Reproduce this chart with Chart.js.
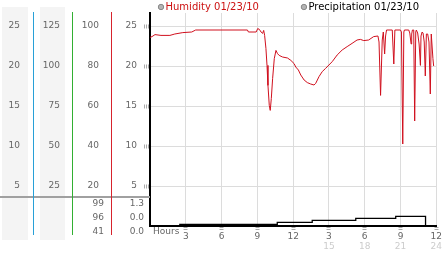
<!DOCTYPE html>
<html>
<head>
<meta charset="utf-8">
<script src="https://cdn.jsdelivr.net/npm/chart.js@4.4.1/dist/chart.umd.min.js"></script>
<style>
  html, body { margin: 0; padding: 0; background: #fff; }
  #chart { display: block; }
</style>
</head>
<body>
<canvas id="chart" width="442" height="253"></canvas>
<script>
// humidity trace (hour of day, %)
const humidityHours = [
  0.00, 0.17, 0.42, 0.92, 1.67, 2.08, 2.75, 3.50, 3.83, 8.17, 8.25, 8.90,
  9.03, 9.17, 9.31, 9.44, 9.53, 9.61, 9.72, 9.81, 9.89, 10.00, 10.08, 10.17,
  10.28, 10.42, 10.56, 10.69, 10.83, 11.11, 11.53, 11.81, 12.08, 12.22, 12.44, 12.64,
  12.92, 13.19, 13.47, 13.75, 13.89, 14.17, 14.44, 14.72, 15.00, 15.28, 15.69, 16.11,
  16.53, 16.94, 17.36, 17.64, 17.92, 18.33, 18.75, 19.11, 19.20, 19.33, 19.47, 19.56,
  19.67, 19.75, 19.83, 20.31, 20.44, 20.53, 21.00, 21.08, 21.19, 21.28, 21.33, 21.69,
  21.78, 21.89, 21.94, 22.00, 22.11, 22.19, 22.28, 22.33, 22.44, 22.56, 22.67, 22.72,
  22.81, 22.89, 22.99, 23.08, 23.17, 23.28, 23.39, 23.50, 23.58, 23.64, 23.72, 23.78
];
const humidityValues = [
  94.3, 94.7, 95.7, 95.3, 95.3, 96.0, 96.7, 97.0, 98.0, 98.0, 97.0, 97.0,
  98.7, 98.3, 97.0, 96.3, 97.8, 95.3, 88.7, 80.3, 70.3, 60.3, 57.8, 63.7,
  73.7, 83.7, 87.8, 86.2, 85.3, 84.5, 84.0, 82.8, 81.2, 79.5, 78.0, 75.5,
  73.0, 71.7, 71.0, 70.5, 71.3, 74.7, 77.2, 78.8, 80.5, 82.2, 85.5, 88.0,
  89.7, 91.3, 93.0, 93.3, 92.7, 93.0, 94.7, 95.0, 92.0, 65.3, 93.0, 97.0,
  86.0, 95.0, 98.0, 98.0, 81.0, 98.0, 98.0, 97.0, 41.0, 97.0, 98.0, 98.0,
  96.5, 91.0, 96.0, 98.0, 98.0, 52.5, 97.0, 98.0, 96.5, 91.0, 80.3, 95.0,
  97.0, 96.5, 92.0, 75.0, 96.0, 96.0, 92.0, 66.0, 96.0, 96.0, 83.7, 80.0
];

// precipitation steps: each value holds from its hour to the next one
const precipHours = [0, 2.5, 10.67, 13.6, 17.25, 20.6, 23.1, 23.8];
const precipValues = [0, 0.08, 0.18, 0.28, 0.38, 0.48, 0, 0];

const seriesNames = ['Humidity 01/23/10', 'Precipitation 01/23/10'];
const humidityStats = ['99', '96', '41'];   // max / now / min
const precipStats = ['1.3', '0.0', '0.0'];

const hourTicks = [3, 6, 9, 12, 15, 18, 21, 24];
const hourLabels = ['3', '6', '9', '12', '3', '6', '9', '12'];
const hourLabels24 = ['', '', '', '', '15', '18', '21', '24'];
const col1Ticks = [25, 20, 15, 10, 5];
const col2Ticks = [125, 100, 75, 50, 25];
const humTicks = [100, 80, 60, 40, 20];
const mainTicks = [25, 20, 15, 10, 5];

const HEAD = 1.065;   // room above the 100% line
const FONT = 'DejaVu Sans';
const LABEL = '#666';
const GRID = '#dcdcdc';
const MARK = '#aaa';
const RULES = { c1: 'rgb(40,160,215)', c2: 'rgb(50,175,50)', yHum: 'rgb(215,35,45)' };

Chart.defaults.font.family = FONT;
Chart.defaults.font.size = 9;
Chart.defaults.color = LABEL;

const setTicks = list => scale => { scale.ticks = list.map(v => ({ value: v })); };
// fixed column width, and no extra label room above/below the plot
const fixWidth = w => scale => {
  scale.width = w;
  scale.paddingTop = 0;
  scale.paddingBottom = 0;
};

function sideAxis(ticks, max, weight, width, pad) {
  return {
    type: 'linear', axis: 'y', position: 'left', weight: weight,
    min: 0, max: max,
    afterBuildTicks: setTicks(ticks),
    afterFit: fixWidth(width),
    grid: { display: false, drawTicks: false },
    border: { display: false },
    ticks: { padding: pad, color: LABEL }
  };
}

const frame = {
  id: 'frame',
  beforeDraw(chart) {
    const { ctx, chartArea: a, scales: s } = chart;
    ctx.save();
    ctx.fillStyle = '#f4f4f4';
    ctx.fillRect(s.c1.left + 2, a.top - 6, s.c1.width - 7, a.bottom - a.top + 20);
    ctx.fillRect(s.c2.left + 7, a.top - 6, s.c2.width - 14, a.bottom - a.top + 20);
    ctx.restore();
  },
  afterDraw(chart) {
    const { ctx, chartArea: a, scales: s } = chart;
    ctx.save();

    // separator above the stats block
    ctx.fillStyle = '#a0a0a0';
    ctx.fillRect(0, a.bottom - 30, a.left, 2);

    // coloured column rules, a little taller than the plot
    Object.keys(RULES).forEach(id => {
      ctx.fillStyle = RULES[id];
      ctx.fillRect(Math.round(s[id].right), a.top - 1, 1, a.bottom - a.top + 10);
    });

    ctx.font = '9px ' + FONT;
    ctx.fillStyle = LABEL;
    ctx.textAlign = 'right';
    ctx.textBaseline = 'middle';
    humidityStats.forEach((t, i) => ctx.fillText(t, s.yHum.right - 7, a.bottom - 22 + i * 14));
    precipStats.forEach((t, i) => ctx.fillText(t, s.y.right - 6, a.bottom - 22 + i * 14));

    ctx.textAlign = 'left';
    ctx.fillText('Hours', a.left + 3, a.bottom + 6);

    // legend
    ctx.font = '10px ' + FONT;
    let x = a.left + 11;
    chart.data.datasets.forEach(ds => {
      ctx.beginPath();
      ctx.arc(x, 7, 2.7, 0, Math.PI * 2);
      ctx.fillStyle = '#b4b4b4';
      ctx.fill();
      ctx.strokeStyle = '#888';
      ctx.lineWidth = 1;
      ctx.stroke();
      ctx.fillStyle = ds.legendColor;
      ctx.fillText(ds.label, x + 4.5, 7);
      x += 4.5 + ctx.measureText(ds.label).width + 45;
    });
    ctx.restore();
  }
};

new Chart(document.getElementById('chart'), {
  type: 'line',
  data: {
    datasets: [{
      label: seriesNames[0],
      legendColor: '#cc1111',
      data: humidityHours.map((h, i) => ({ x: h, y: humidityValues[i] })),
      yAxisID: 'yHum',
      borderColor: '#d0101e',
      borderWidth: 1,
      pointRadius: 0,
      tension: 0
    }, {
      label: seriesNames[1],
      legendColor: '#000',
      data: precipHours.map((h, i) => ({ x: h, y: precipValues[i] })),
      yAxisID: 'yP',
      borderColor: '#000',
      borderWidth: 1.3,
      stepped: 'before',
      pointRadius: 0
    }]
  },
  options: {
    responsive: false,
    animation: false,
    devicePixelRatio: 1,
    layout: { padding: { top: 13, right: 0, bottom: 2, left: 0 } },
    plugins: { legend: { display: false }, tooltip: { enabled: false } },
    scales: {
      x: {
        type: 'linear', position: 'bottom', weight: 0,
        min: 0, max: 24,
        afterBuildTicks: setTicks(hourTicks),
        afterFit: s => { s.height = 16; },
        grid: { color: GRID, tickLength: 5, tickColor: MARK, tickWidth: 4, tickBorderDash: [1, 1] },
        border: { color: '#000', width: 2 },
        ticks: { padding: 0, maxRotation: 0, autoSkip: false, color: LABEL,
                 callback: (v, i) => hourLabels[i] }
      },
      x2: {
        type: 'linear', axis: 'x', position: 'bottom', weight: 1,
        min: 0, max: 24,
        afterBuildTicks: setTicks(hourTicks),
        afterFit: s => { s.height = 9; },
        grid: { display: false, drawTicks: false },
        border: { display: false },
        ticks: { padding: 0, maxRotation: 0, autoSkip: false, color: '#cccccc',
                 font: { lineHeight: 1 }, callback: (v, i) => hourLabels24[i] }
      },
      y: {
        type: 'linear', position: 'left', weight: 0,
        min: 0, max: 25 * HEAD,
        afterBuildTicks: setTicks(mainTicks),
        afterFit: fixWidth(39),
        grid: { color: GRID, tickLength: 6, tickColor: MARK, tickWidth: 4, tickBorderDash: [1, 1] },
        border: { color: '#000', width: 2 },
        ticks: { padding: 7, color: LABEL }
      },
      yHum: sideAxis(humTicks, 100 * HEAD, 1, 39, 12),
      c2: sideAxis(col2Ticks, 125 * HEAD, 2, 39, 12),
      c1: sideAxis(col1Ticks, 25 * HEAD, 3, 33, 13),
      yP: {
        type: 'linear', display: false,
        min: 0, max: 10 * HEAD
      }
    }
  },
  plugins: [frame]
});
</script>
</body>
</html>
